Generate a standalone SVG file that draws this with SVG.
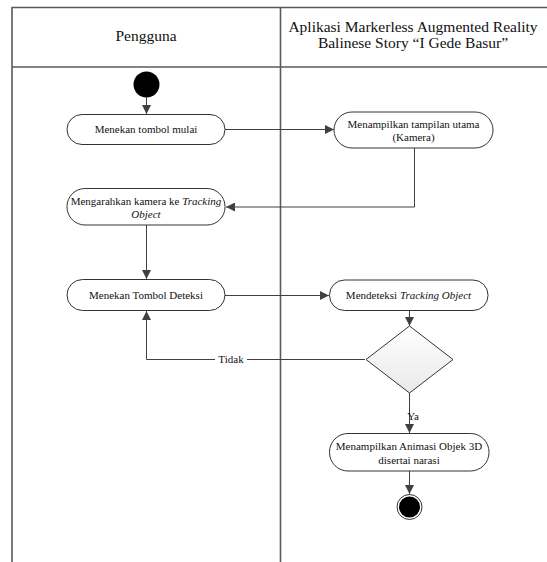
<svg xmlns="http://www.w3.org/2000/svg" width="547" height="562" viewBox="0 0 547 562">
<style>
.lane{stroke:#5a5a5a;stroke-width:1.6;fill:none}
.node rect{fill:#fff;stroke:#333;stroke-width:1}
.t{font-family:"Liberation Serif","Times New Roman",serif;font-size:11px;fill:#111;text-anchor:middle}
.h{font-family:"Liberation Serif","Times New Roman",serif;font-size:15.5px;fill:#111;text-anchor:middle}
.c{stroke:#404040;stroke-width:1;fill:none}
</style>
<defs>
<marker id="arr" viewBox="0 0 10 10" refX="10" refY="5" markerWidth="9" markerHeight="9" markerUnits="userSpaceOnUse" orient="auto">
<path d="M0,0 L10,5 L0,10 z" fill="#404040"/>
</marker>
<linearGradient id="dg" x1="0" y1="0" x2="0" y2="1">
<stop offset="0" stop-color="#ffffff"/>
<stop offset="1" stop-color="#e9e9e9"/>
</linearGradient>
</defs>
<g id="lanes">
<path class="lane" d="M12,562 V7.5 H547"/>
<path class="lane" d="M12,67 H547"/>
<path class="lane" d="M280.5,7.5 V562"/>
<text class="h" x="146" y="41">Pengguna</text>
<text class="h" x="413" y="32">Aplikasi Markerless Augmented Reality</text>
<text class="h" x="413" y="48">Balinese Story “I Gede Basur”</text>
</g>
<g id="connectors">
<path class="c" d="M146.5,97.5 V114" marker-end="url(#arr)"/>
<path class="c" d="M225,129.5 H334" marker-end="url(#arr)"/>
<path class="c" d="M414.5,148 V207 H226" marker-end="url(#arr)"/>
<path class="c" d="M146.5,225 V279" marker-end="url(#arr)"/>
<path class="c" d="M225,295.5 H329" marker-end="url(#arr)"/>
<path class="c" d="M409.5,310.5 V326" marker-end="url(#arr)"/>
<path class="c" d="M365,359.5 H146.5 V311" marker-end="url(#arr)"/>
<path class="c" d="M409.5,393 V433" marker-end="url(#arr)"/>
<path class="c" d="M409.5,471 V494" marker-end="url(#arr)"/>
<rect x="215" y="352" width="32" height="14" fill="#fff"/>
<text class="t" x="231" y="363">Tidak</text>
<text class="t" x="413" y="420" text-anchor="start">Ya</text>
</g>
<g id="start">
<circle cx="146.5" cy="84.5" r="13" fill="#000"/>
</g>
<g id="n1" class="node">
<rect x="67" y="114.5" width="158" height="30" rx="15"/>
<text class="t" x="146" y="133">Menekan tombol mulai</text>
</g>
<g id="n2" class="node">
<rect x="334" y="112" width="159" height="36" rx="18"/>
<text class="t" x="413.5" y="127.5">Menampilkan tampilan utama</text>
<text class="t" x="413.5" y="141">(Kamera)</text>
</g>
<g id="n3" class="node">
<rect x="67" y="188.5" width="158" height="36.5" rx="18"/>
<text class="t" x="146" y="204.5">Mengarahkan kamera ke <tspan font-style="italic">Tracking</tspan></text>
<text class="t" x="146" y="218" font-style="italic">Object</text>
</g>
<g id="n4" class="node">
<rect x="67" y="279.5" width="158" height="31" rx="15.5"/>
<text class="t" x="146" y="299">Menekan Tombol Deteksi</text>
</g>
<g id="n5" class="node">
<rect x="329.5" y="280" width="158.5" height="30.5" rx="15"/>
<text class="t" x="408.5" y="299">Mendeteksi <tspan font-style="italic">Tracking Object</tspan></text>
</g>
<g id="decision">
<path d="M409.5,326 L453,359.5 L409.5,393 L366,359.5 Z" fill="url(#dg)" stroke="#333" stroke-width="1"/>
</g>
<g id="n6" class="node">
<rect x="329.5" y="433.5" width="159.5" height="37.5" rx="18.5"/>
<text class="t" x="409" y="450">Menampilkan Animasi Objek 3D</text>
<text class="t" x="409" y="463.5">disertai narasi</text>
</g>
<g id="end">
<circle cx="409.5" cy="507" r="12.5" fill="#fff" stroke="#333" stroke-width="1"/>
<circle cx="409.5" cy="507" r="10.5" fill="#000"/>
</g>
</svg>
